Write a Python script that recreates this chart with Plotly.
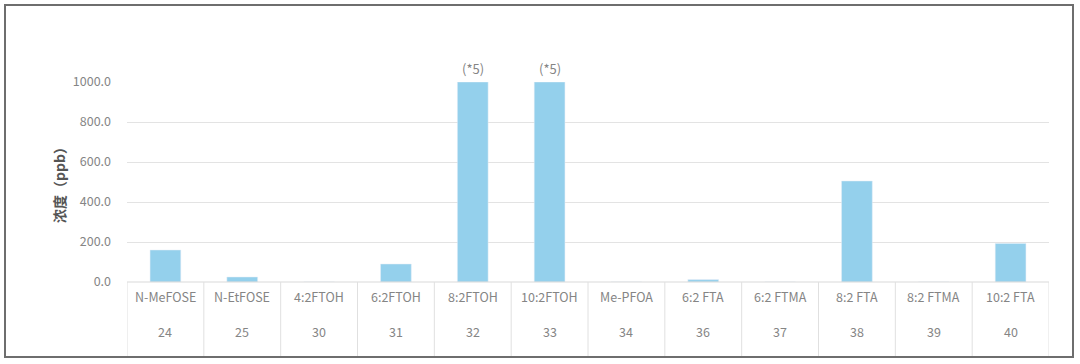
import plotly.graph_objects as go

names = ["N-MeFOSE", "N-EtFOSE", "4:2FTOH", "6:2FTOH", "8:2FTOH", "10:2FTOH",
         "Me-PFOA", "6:2 FTA", "6:2 FTMA", "8:2 FTA", "8:2 FTMA", "10:2 FTA"]
numbers = ["24", "25", "30", "31", "32", "33", "34", "36", "37", "38", "39", "40"]
values = [160, 25, 0, 90, 1000, 1000, 0, 12, 0, 505, 0, 193]
notes = ["", "", "", "", "(*5)", "(*5)", "", "", "", "", "", ""]
y_ticks = [0, 200, 400, 600, 800, 1000]
y_title = "浓度（ppb）"

W, H = 1080, 364
L, R, T, B = 127, 31, 82, 82
pw, ph = W - L - R, H - T - B

def px_x(p):
    return (p - L) / pw

def px_y(p):
    return (H - B - p) / ph

idx = list(range(len(names)))
grey = "#858585"
font = "Noto Sans CJK SC, Open Sans, sans-serif"

fig = go.Figure(go.Bar(x=idx, y=values, marker_color="#94D0EC", width=0.4,
                       hoverinfo="skip"))

shapes = []
annotations = []
# table top line
shapes.append(dict(type="line", xref="paper", yref="paper", x0=0, x1=1, y0=0, y1=0,
                   line=dict(color="#d9d9d9", width=1)))
for i in idx + [len(idx)]:
    shapes.append(dict(type="line", xref="x", yref="paper", x0=i - 0.5, x1=i - 0.5,
                       y0=0, y1=px_y(356), line=dict(color="#e0e0e0", width=1)))
for i, (n, k, note, v) in enumerate(zip(names, numbers, notes, values)):
    annotations.append(dict(x=i, y=px_y(308), xref="x", yref="paper", text=n,
                            showarrow=False, font=dict(size=12.5, color=grey, family=font)))
    annotations.append(dict(x=i, y=px_y(343), xref="x", yref="paper", text=k,
                            showarrow=False, font=dict(size=12.5, color=grey, family=font)))
    if note:
        annotations.append(dict(x=i, y=v, xref="x", yref="y", text=note, yanchor="bottom",
                                yshift=2, showarrow=False,
                                font=dict(size=13, color=grey, family=font)))
# y title
annotations.append(dict(x=px_x(47), y=0.5, xref="paper", yref="paper", text="<b>" + y_title + "</b>",
                        textangle=-90, showarrow=False,
                        font=dict(size=14, color="#555555", family=font)))
# outer frame
shapes.append(dict(type="rect", xref="paper", yref="paper", x0=px_x(5), x1=px_x(1073),
                   y0=px_y(357), y1=px_y(5), line=dict(color="#6e6e6e", width=2),
                   layer="below"))

fig.update_layout(
    width=W, height=H, margin=dict(l=L, r=R, t=T, b=B),
    paper_bgcolor="white", plot_bgcolor="white", showlegend=False,
    bargap=0.6, shapes=shapes, annotations=annotations,
    font=dict(family=font, color=grey, size=12),
)
fig.update_xaxes(range=[-0.5, len(idx) - 0.5], showticklabels=False, showgrid=False,
                 zeroline=False, showline=False, fixedrange=True)
fig.update_yaxes(range=[0, 1000], tickvals=y_ticks, tickformat=".1f", showgrid=True,
                 gridcolor="#e3e3e3", gridwidth=1, zeroline=False, showline=False,
                 ticklabelstandoff=15, tickfont=dict(size=12.5, color=grey, family=font),
                 fixedrange=True)

fig.write_html("out.html")
